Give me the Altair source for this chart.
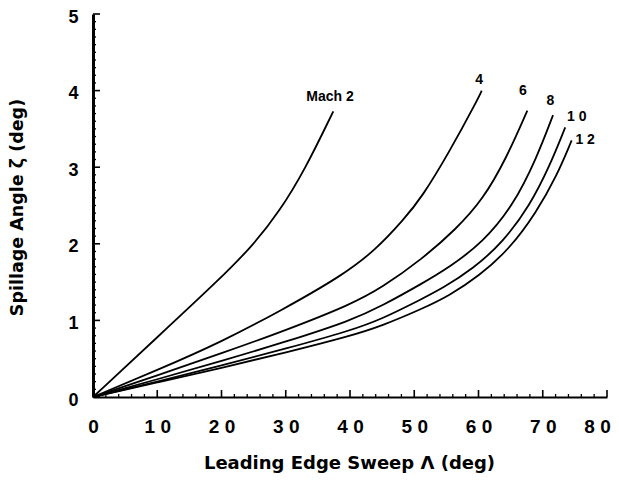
import altair as alt
import pandas as pd

# ---- curve data ----
mach = [2, 4, 6, 8, 10, 12]
sweep = {
    2:  [0, 10, 20, 25, 29, 33, 37.4],
    4:  [0, 10, 20, 29.3, 38.7, 44, 48.4, 51.2, 55.4, 59.9, 60.5],
    6:  [0, 10, 20, 30, 40.2, 45, 51.2, 56.5, 60.7, 64.3, 67.6],
    8:  [0, 10, 20, 30, 40.2, 45, 51.2, 55.4, 60.7, 65.4, 69.0, 71.6],
    10: [0, 10, 20, 30, 40.2, 45, 51.2, 54.4, 59.1, 63.8, 68.0, 71.1, 73.5],
    12: [0, 10, 20, 30, 40.2, 45, 51.2, 55.4, 60.1, 64.8, 69.0, 72.2, 74.5],
}
spill = {
    2:  [0, 0.78, 1.56, 1.99, 2.42, 2.97, 3.73],
    4:  [0, 0.35, 0.72, 1.13, 1.58, 1.92, 2.32, 2.61, 3.19, 3.89, 4.00],
    6:  [0, 0.28, 0.57, 0.87, 1.21, 1.43, 1.80, 2.19, 2.58, 3.11, 3.74],
    8:  [0, 0.23, 0.47, 0.72, 1.00, 1.19, 1.48, 1.69, 2.02, 2.50, 3.11, 3.68],
    10: [0, 0.20, 0.41, 0.63, 0.87, 1.02, 1.28, 1.42, 1.67, 2.02, 2.50, 3.02, 3.52],
    12: [0, 0.19, 0.38, 0.58, 0.80, 0.93, 1.15, 1.32, 1.58, 1.93, 2.41, 2.89, 3.35],
}

label_text = ["Mach 2", "4", "6", "8", "1 0", "1 2"]
label_x = [36.9, 60.1, 66.9, 71.2, 75.3, 76.6]
label_y = [3.92, 4.14, 4.00, 3.86, 3.65, 3.36]

x_ticks = [0, 10, 20, 30, 40, 50, 60, 70, 80]
y_ticks = [0, 1, 2, 3, 4, 5]
x_minor = list(range(0, 81, 2))
y_minor = [i / 10 for i in range(0, 51)]

rows = []
for m in mach:
    for i, (a, b) in enumerate(zip(sweep[m], spill[m])):
        rows.append({"mach": m, "sweep": a, "spill": b, "order": i})
df = pd.DataFrame(rows)
labels = pd.DataFrame({"text": label_text, "sweep": label_x, "spill": label_y})
xmin_df = pd.DataFrame({"sweep": x_minor, "major": [v % 10 == 0 for v in x_minor]})
ymin_df = pd.DataFrame({"spill": y_minor, "major": [abs(v - round(v)) < 1e-9 for v in y_minor]})

W, H = 514, 383
FONT = "Liberation Sans"
TFONT = "DejaVu Sans"
xscale = alt.Scale(domain=[0, 80], nice=False, zero=False)
yscale = alt.Scale(domain=[0, 5], nice=False)

xaxis = alt.Axis(
    values=x_ticks, ticks=False, grid=False, domainColor="black", domainWidth=2,
    labelExpr="join(split(datum.label, ''), ' ')",
    labelFont=FONT, labelFontWeight="bold", labelFontSize=19, labelColor="black",
    labelPadding=20, labelFlush=False, labelOverlap=False,
    labelOffset={"condition": {"test": "datum.value == 80", "value": -10}, "value": 0},
    title="Leading Edge Sweep Λ (deg)", titleFont=TFONT, titleFontWeight="bold",
    titleFontSize=18, titleColor="black", titleX=256, titleY=66,
    titleBaseline="middle", titleAlign="center")
yaxis = alt.Axis(
    values=y_ticks, ticks=False, grid=False, domainColor="black", domainWidth=3,
    labelFont=FONT, labelFontWeight="bold", labelFontSize=18, labelColor="black",
    labelPadding=15, labelFlush=False, labelOffset=3, labelOverlap=False,
    title="Spillage Angle ζ (deg)", titleFont=TFONT, titleFontWeight="bold",
    titleFontSize=17.5, titleColor="black", titleX=-76, titleY=193,
    titleBaseline="middle", titleAlign="center", titleAngle=270)

X = alt.X("sweep:Q", scale=xscale, axis=xaxis)
Y = alt.Y("spill:Q", scale=yscale, axis=yaxis)

lines = alt.Chart(df).mark_line(color="black", strokeWidth=1.8, interpolate="basis").encode(
    x=X, y=Y, detail="mach:N", order="order:Q")

text = alt.Chart(labels).mark_text(font=FONT, fontWeight="bold", fontSize=14, color="black").encode(
    x=X, y=Y, text="text:N")

xt_minor = alt.Chart(xmin_df).transform_filter("!datum.major").mark_rule(color="black", strokeWidth=1.3).encode(
    x=X, y=alt.value(H), y2=alt.value(H - 3))
xt_major = alt.Chart(xmin_df).transform_filter("datum.major").mark_rule(color="black", strokeWidth=1.6).encode(
    x=X, y=alt.value(H), y2=alt.value(H - 7))
yt_minor = alt.Chart(ymin_df).transform_filter("!datum.major").mark_rule(color="black", strokeWidth=1.3).encode(
    y=Y, x=alt.value(0), x2=alt.value(3))
yt_major = alt.Chart(ymin_df).transform_filter("datum.major").mark_rule(color="black", strokeWidth=1.6).encode(
    y=Y, x=alt.value(0), x2=alt.value(7))

chart = alt.layer(lines, xt_minor, xt_major, yt_minor, yt_major, text).properties(
    width=W, height=H,
    autosize=alt.AutoSizeParams(type="none"),
    padding={"left": 85, "top": 6, "right": 4, "bottom": 76},
).configure_view(stroke=None)

chart.save("out.html", embed_options={"renderer": "svg", "actions": False})
